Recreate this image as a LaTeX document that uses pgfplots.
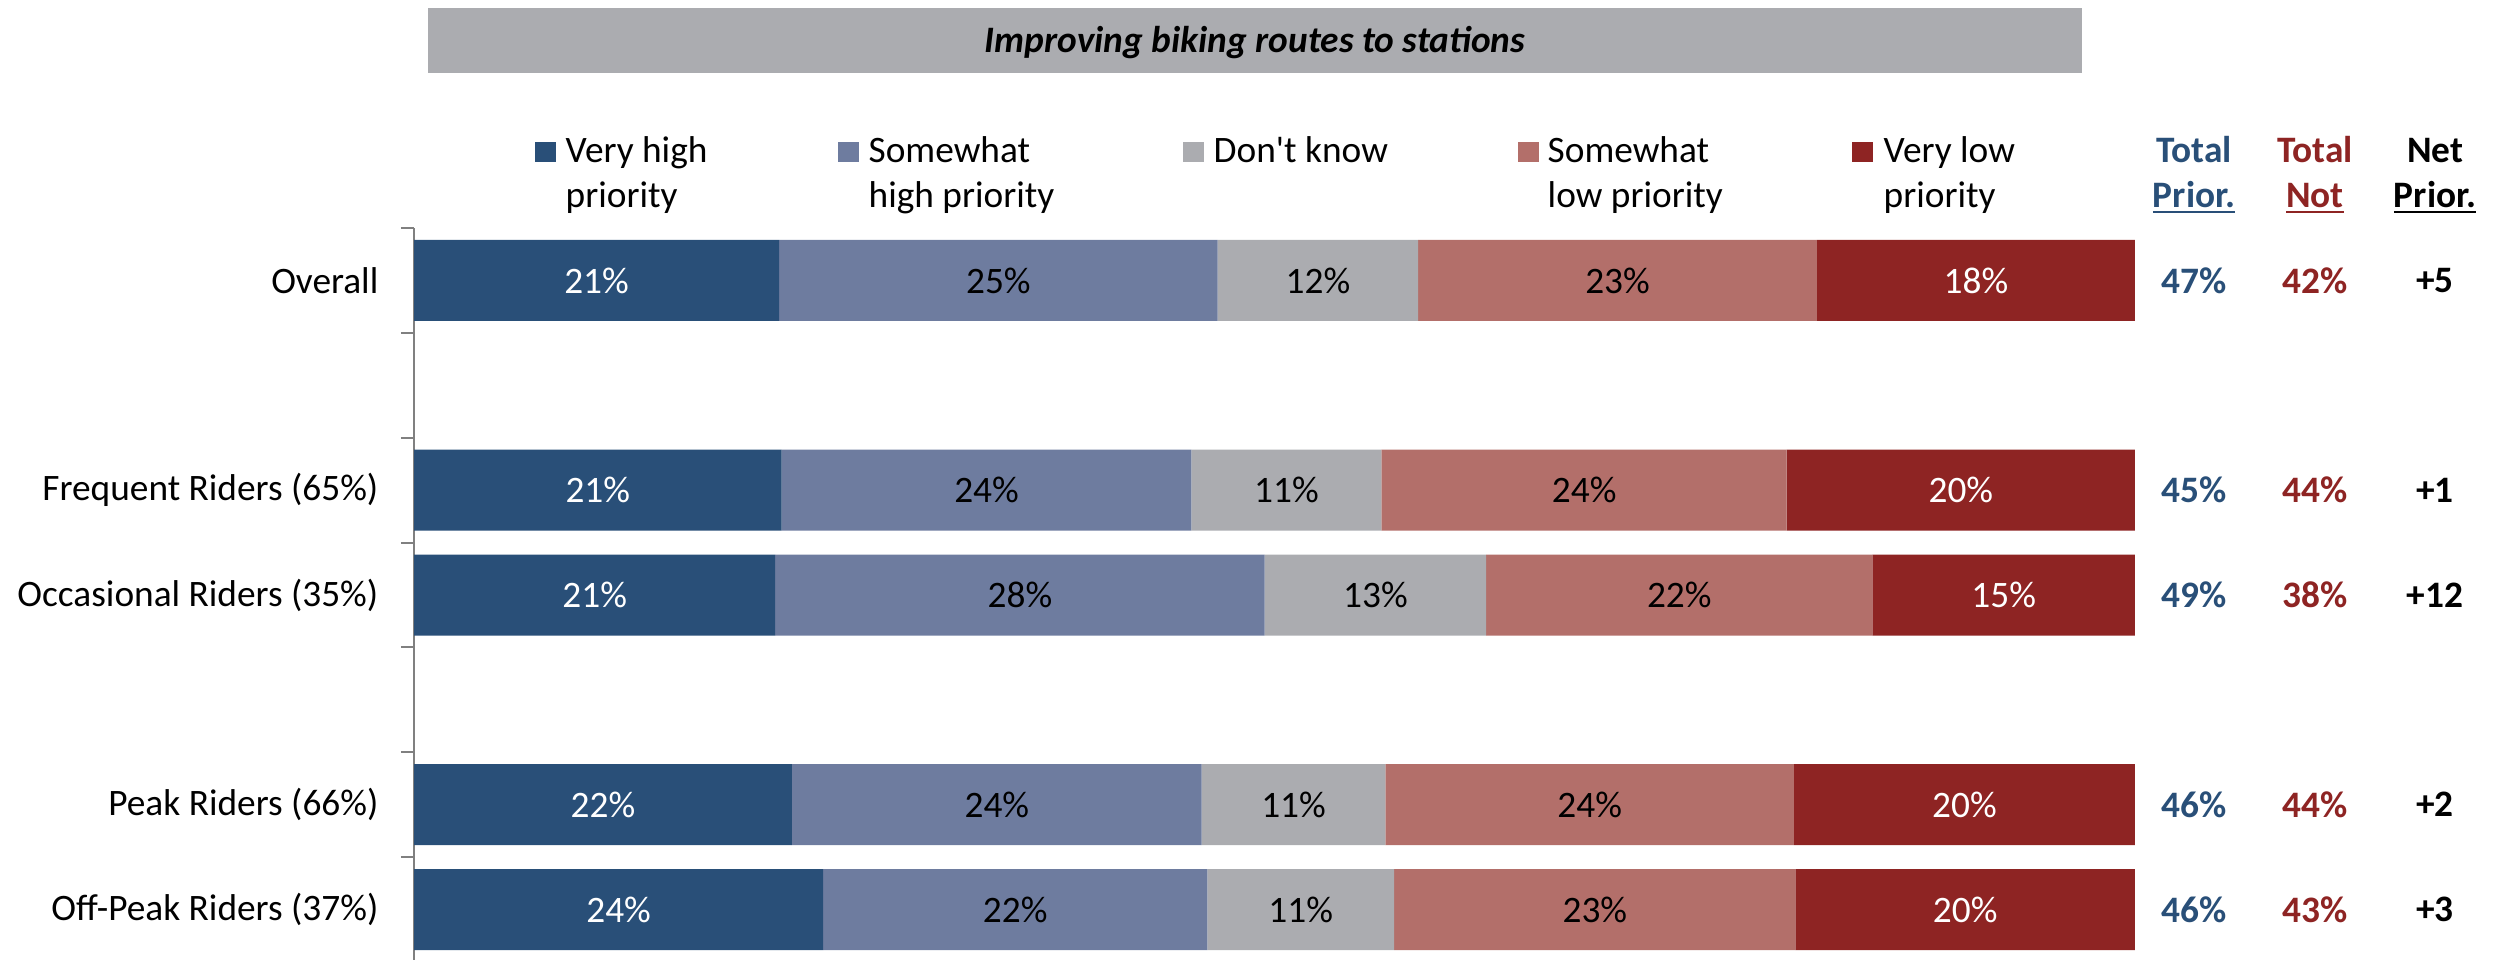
\documentclass[border=0pt]{standalone}
\usepackage{pgfplots}
\pgfplotsset{compat=1.18}
\usepackage{pgfplotstable}
\usepackage{fontspec}
\setmainfont{Carlito}
\definecolor{vhigh}{RGB}{41,79,120}
\definecolor{shigh}{RGB}{110,124,159}
\definecolor{dknow}{RGB}{171,172,176}
\definecolor{slow}{RGB}{179,111,106}
\definecolor{vlow}{RGB}{142,36,35}
\definecolor{axgray}{RGB}{128,128,128}
\newcommand\fs{\fontsize{11.2}{13.5}\selectfont}
\newcommand\ul[1]{\leavevmode\setbox0\hbox{#1}\rlap{\copy0}\rule[-1.8pt]{\wd0}{0.6pt}}

\pgfplotstableread{
y v1 v2 v3 v4 v5 l1 l2 l3 l4 l5 m1 m2 m3 m4 m5 pa pb pc tp tn np
6 21.22 25.48 11.65 23.18 18.47 21 25 12 23 18 10.61 33.96 52.53 69.94 90.77 103.44 110.47 117.45 47 42 +5
4 21.36 23.81 11.05 23.55 20.23 21 24 11 24 20 10.68 33.27 50.70 68.00 89.89 103.44 110.47 117.45 45 44 +1
3 20.99 28.44 12.88 22.44 15.25 21 28 13 22 15 10.50 35.21 55.87 73.53 92.38 103.44 110.47 117.45 49 38 +12
1 21.96 23.81 10.68 23.74 19.81 22 24 11 24 20 10.98 33.87 51.11 68.32 90.10 103.44 110.47 117.45 46 44 +2
0 23.77 22.33 10.86 23.32 19.72 24 22 11 23 20 11.89 34.94 51.53 68.62 90.14 103.44 110.47 117.45 46 43 +3
}\data

\pgfplotsset{
  lab/.style={draw=none, mark=none,
    point meta=explicit symbolic,
    every node near coord/.append style={anchor=center, font=\fs, inner sep=0pt}},
}

\begin{document}
\begin{tikzpicture}
\path[use as bounding box] (0,0) rectangle (748.8pt,-287.7pt);

\begin{scope}[x=0.3pt,y=-0.3pt]
% title box
\fill[dknow] (428,8) rectangle (2082,73);
\node[anchor=base, inner sep=0pt, font=\fs\bfseries\itshape] at (1255,52) {Improving biking routes to stations};
% legend
\fill[vhigh] (535,142) rectangle (556,162);
\node[anchor=base west, inner sep=0pt, font=\fs] at (565,162) {Very high};
\node[anchor=base west, inner sep=0pt, font=\fs] at (565,207) {priority};
\fill[shigh] (838,142) rectangle (859,162);
\node[anchor=base west, inner sep=0pt, font=\fs] at (868,162) {Somewhat};
\node[anchor=base west, inner sep=0pt, font=\fs] at (868,207) {high priority};
\fill[dknow] (1183,142) rectangle (1204,162);
\node[anchor=base west, inner sep=0pt, font=\fs] at (1213,162) {Don\textquotesingle t know};
\fill[slow] (1518,142) rectangle (1539,162);
\node[anchor=base west, inner sep=0pt, font=\fs] at (1547,162) {Somewhat};
\node[anchor=base west, inner sep=0pt, font=\fs] at (1547,207) {low priority};
\fill[vlow] (1852,142) rectangle (1873,162);
\node[anchor=base west, inner sep=0pt, font=\fs] at (1883,162) {Very low};
\node[anchor=base west, inner sep=0pt, font=\fs] at (1883,207) {priority};
% column headers
\node[anchor=base, inner sep=0pt, font=\fs\bfseries, text=vhigh] at (2194,162) {Total};
\node[anchor=base, inner sep=0pt, font=\fs\bfseries, text=vhigh] at (2194,207) {\ul{Prior.}};
\node[anchor=base, inner sep=0pt, font=\fs\bfseries, text=vlow] at (2315,162) {Total};
\node[anchor=base, inner sep=0pt, font=\fs\bfseries, text=vlow] at (2315,207) {\ul{Not}};
\node[anchor=base, inner sep=0pt, font=\fs\bfseries, text=black] at (2435,162) {Net};
\node[anchor=base, inner sep=0pt, font=\fs\bfseries, text=black] at (2435,207) {\ul{Prior.}};
\end{scope}

\begin{axis}[at={(124.2pt,-68.4pt)}, anchor=north west,
  width=516.24pt, height=220.2pt, scale only axis,
  xbar stacked, bar width=24.3pt,
  xmin=0, xmax=100, ymin=-0.5, ymax=6.5,
  hide x axis, axis y line*=left,
  axis line style={draw=axgray, line width=0.6pt, -},
  ytick={0,1,3,4,6},
  yticklabels={Off-Peak Riders (37\%), Peak Riders (66\%), Occasional Riders (35\%), Frequent Riders (65\%), Overall},
  major tick length=0pt,
  minor ytick={-0.5,0.5,1.5,2.5,3.5,4.5,5.5,6.5},
  minor tick length=3.9pt, tick align=outside,
  minor tick style={draw=axgray, line width=0.6pt},
  yticklabel style={font=\fs, text=black, inner sep=0pt, xshift=-10.5pt},
  clip=false]
\addplot[fill=vhigh, draw=none] table[x=v1,y=y]{\data};
\addplot[fill=shigh, draw=none] table[x=v2,y=y]{\data};
\addplot[fill=dknow, draw=none] table[x=v3,y=y]{\data};
\addplot[fill=slow, draw=none] table[x=v4,y=y]{\data};
\addplot[fill=vlow, draw=none] table[x=v5,y=y]{\data};
\end{axis}

\begin{axis}[at={(124.2pt,-68.4pt)}, anchor=north west,
  width=516.24pt, height=220.2pt, scale only axis,
  xmin=0, xmax=100, ymin=-0.5, ymax=6.5, hide axis, clip=false]
\addplot[lab, nodes near coords={\pgfplotspointmeta\%}, every node near coord/.append style={text=white}] table[x=m1,y=y,meta=l1]{\data};
\addplot[lab, nodes near coords={\pgfplotspointmeta\%}, every node near coord/.append style={text=black}] table[x=m2,y=y,meta=l2]{\data};
\addplot[lab, nodes near coords={\pgfplotspointmeta\%}, every node near coord/.append style={text=black}] table[x=m3,y=y,meta=l3]{\data};
\addplot[lab, nodes near coords={\pgfplotspointmeta\%}, every node near coord/.append style={text=black}] table[x=m4,y=y,meta=l4]{\data};
\addplot[lab, nodes near coords={\pgfplotspointmeta\%}, every node near coord/.append style={text=white}] table[x=m5,y=y,meta=l5]{\data};
\addplot[lab, nodes near coords={\textbf{\pgfplotspointmeta\%}}, every node near coord/.append style={text=vhigh}] table[x=pa,y=y,meta=tp]{\data};
\addplot[lab, nodes near coords={\textbf{\pgfplotspointmeta\%}}, every node near coord/.append style={text=vlow}] table[x=pb,y=y,meta=tn]{\data};
\addplot[lab, nodes near coords={\textbf{\pgfplotspointmeta}}, every node near coord/.append style={text=black}] table[x=pc,y=y,meta=np]{\data};
\end{axis}
\end{tikzpicture}
\end{document}
